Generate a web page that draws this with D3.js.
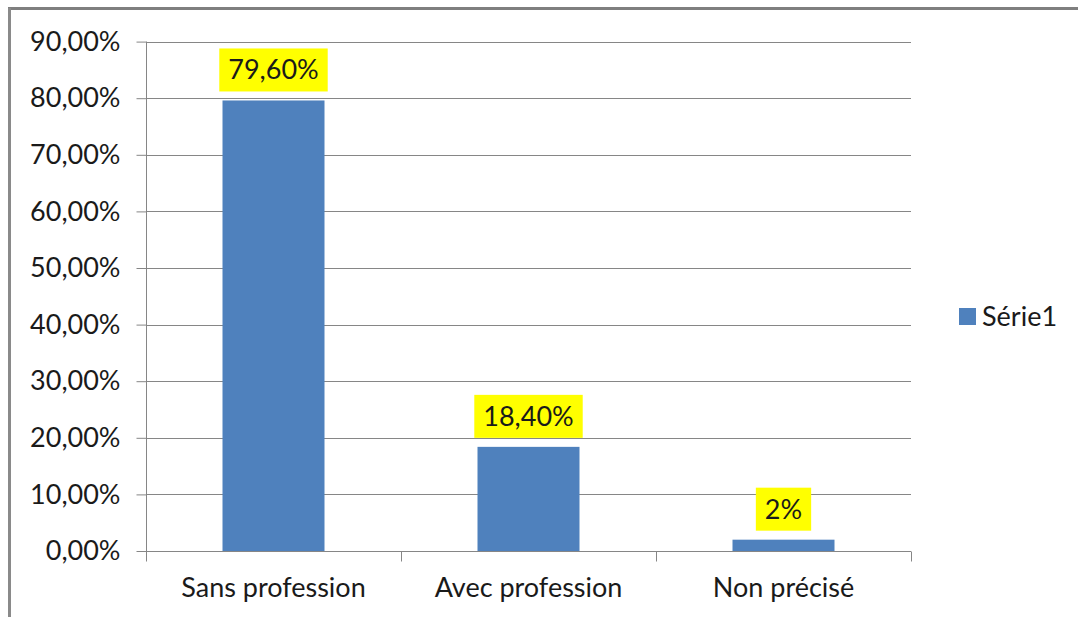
<!DOCTYPE html>
<html><head><meta charset="utf-8">
<script src="https://cdn.jsdelivr.net/npm/d3@7"></script>
<style>
body{margin:0;background:#fff;}
svg{display:block;font-family:Lato, "Open Sans", sans-serif;}
</style></head>
<body>
<svg id="c" width="1078" height="617"></svg>
<script>
const categories = ["Sans profession", "Avec profession", "Non précisé"];
const values = [79.6, 18.4, 2];
const valueLabels = ["79,60%", "18,40%", "2%"];
const yTicks = [0, 10, 20, 30, 40, 50, 60, 70, 80, 90];
const yTickLabels = ["0,00%", "10,00%", "20,00%", "30,00%", "40,00%", "50,00%", "60,00%", "70,00%", "80,00%", "90,00%"];
const seriesName = "Série1";

(function () {
const FS = 27;
const svg = d3.select("#c");
// outer frame
svg.append("line").attr("x1", 8).attr("x2", 1078).attr("y1", 8.5).attr("y2", 8.5).attr("stroke", "#7f7f7f").attr("stroke-width", 3);
svg.append("line").attr("x1", 9.5).attr("x2", 9.5).attr("y1", 8).attr("y2", 617).attr("stroke", "#8a8a8a").attr("stroke-width", 3);

const pLeft = 146, pRight = 911, pTop = 41.6, pBottom = 551;
const x = d3.scaleBand().domain(categories).range([pLeft, pRight]).paddingInner(0.6).paddingOuter(0.3);
const xb = d3.scaleBand().domain(categories).range([pLeft, pRight]);
const y = d3.scaleLinear().domain([0, 90]).range([pBottom, pTop]);

// gridlines
svg.append("g").selectAll("line").data(yTicks.filter(d => d > 0)).join("line")
  .attr("x1", pLeft).attr("x2", pRight)
  .attr("y1", d => Math.round(y(d)) + 0.5).attr("y2", d => Math.round(y(d)) + 0.5)
  .attr("stroke", "#868686").attr("stroke-width", 1);

// y axis
const yAxis = d3.axisLeft(y).tickValues(yTicks).tickFormat((d, i) => yTickLabels[i]).tickSize(10).tickPadding(16);
const gy = svg.append("g").attr("transform", `translate(${pLeft + 0.5},0)`).call(yAxis);
gy.selectAll("path, line").attr("stroke", "#868686");
gy.select(".domain").attr("d", `M0,${y(90)}V${pBottom}`);
gy.selectAll("text").attr("font-size", FS).attr("fill", "#1a1a1a").attr("font-family", "Lato, sans-serif");

// bars
svg.append("g").selectAll("rect").data(values).join("rect")
  .attr("x", (d, i) => x(categories[i]))
  .attr("width", x.bandwidth())
  .attr("y", d => y(d))
  .attr("height", d => pBottom - y(d))
  .attr("fill", "#4f81bd");

// x axis
const gx = svg.append("g").attr("transform", `translate(0,${pBottom + 0.5})`);
gx.append("line").attr("x1", pLeft).attr("x2", pRight).attr("stroke", "#868686");
const bounds = categories.map(c => xb(c)).concat([pRight]);
gx.selectAll(".tk").data(bounds).join("line").attr("class", "tk")
  .attr("x1", d => Math.round(d) + 0.5).attr("x2", d => Math.round(d) + 0.5)
  .attr("y1", 0).attr("y2", 10).attr("stroke", "#868686");
gx.selectAll("text").data(categories).join("text")
  .attr("x", d => xb(d) + xb.bandwidth() / 2).attr("y", 45)
  .attr("text-anchor", "middle").attr("font-size", FS).attr("fill", "#1a1a1a")
  .text(d => d);

// data labels
const lg = svg.append("g");
values.forEach((v, i) => {
  const cx = x(categories[i]) + x.bandwidth() / 2;
  const yb = y(v) - 9;
  const t = lg.append("text").attr("x", cx).attr("y", yb - 12)
    .attr("text-anchor", "middle").attr("font-size", FS).attr("fill", "#1a1a1a").text(valueLabels[i]);
  const w = t.node().getComputedTextLength();
  lg.insert("rect", "text").attr("x", cx - w / 2 - 9).attr("y", yb - 43).attr("width", w + 18).attr("height", 43).attr("fill", "#ffff00");
});

// legend
svg.append("rect").attr("x", 959).attr("y", 308).attr("width", 17).attr("height", 17).attr("fill", "#4f81bd");
svg.append("text").attr("x", 982).attr("y", 326).attr("font-size", FS).attr("fill", "#1a1a1a").text(seriesName);
})();
</script>
</body></html>
